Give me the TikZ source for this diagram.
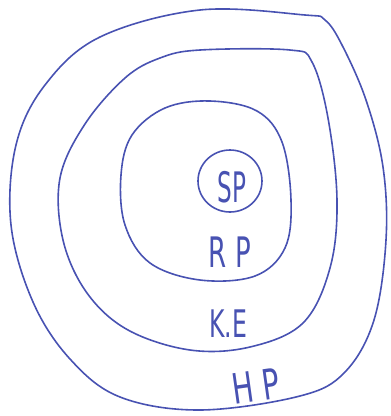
\documentclass[tikz,border=0pt]{standalone}
\usepackage{fontspec}
\setmainfont{DejaVu Sans}
\definecolor{ink}{RGB}{72,82,178}
\begin{document}
\begin{tikzpicture}[x=1pt,y=-1pt,
  ring/.style={draw=ink,line width=1.6pt,line join=round},
  lbl/.style={text=ink,font=\fontsize{42}{44}\selectfont,inner sep=0pt}]
\useasboundingbox (0,0) rectangle (391,416);
% outer ring
\draw[ring] plot[smooth cycle,tension=0.6] coordinates {
 (200,10) (305,15) (325,20) (342,45) (366,100) (383,167) (386,240) (374,320)
 (345,372) (300,396) (200,410) (120,397) (70,359) (33,302) (11,225) (16,145)
 (45,85) (100,37)};
% second ring
\draw[ring] plot[smooth cycle,tension=0.6] coordinates {
 (200,50) (290,50) (312,62) (328,118) (337,200) (330,268) (303,323) (250,347)
 (190,350) (128,330) (87,293) (63,240) (60,178) (85,124) (125,78) (160,58)};
% third ring
\draw[ring] plot[smooth cycle,tension=0.6] coordinates {
 (210,101) (257,111) (282,142) (291,200) (285,248) (255,276) (200,280)
 (150,263) (125,225) (121,175) (132,135) (165,108)};
% inner circle
\draw[ring] (230,181) ellipse [x radius=32,y radius=31];
\node[lbl] (sp) at (232,187) {\scalebox{0.55}[1]{SP}};
\node[lbl] (rp) at (230,252) {\scalebox{0.62}[1]{R P}};
\node[lbl,font=\fontsize{38}{40}\selectfont] (ke) at (228,324) {\scalebox{0.62}[1]{K.E}};
\node[lbl,rotate=8] (hp) at (256,386) {\scalebox{0.68}[1]{H P}};
\end{tikzpicture}
\end{document}
